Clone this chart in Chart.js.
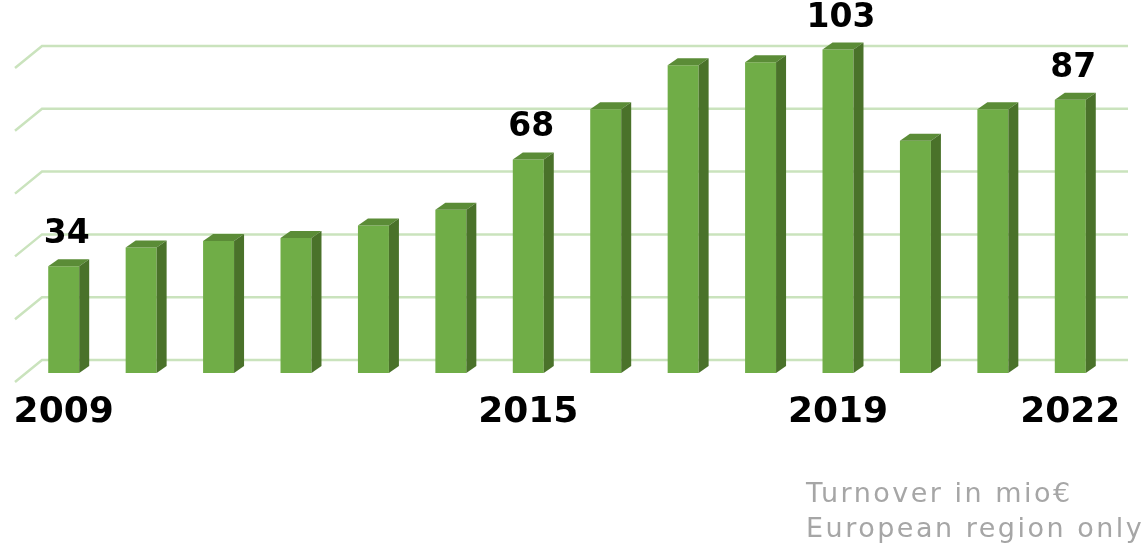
<!DOCTYPE html>
<html lang="en">
<head>
<meta charset="UTF-8">
<title>Turnover in mio€</title>
<script src="https://cdn.jsdelivr.net/npm/chart.js"></script>
<style>
    body {
        margin: 0;
        background: #ffffff;
        width: 1148px;
        height: 559px;
        overflow: hidden;
        position: relative;
        font-family: 'DejaVu Sans', sans-serif;
    }

    #chartBox {
        position: absolute;
        left: 0;
        top: 0;
        width: 1148px;
        height: 559px;
    }

    #note {
        position: absolute;
        left: 806px;
        top: 475px;
        color: #a6a6a6;
        font-size: 27px;
        letter-spacing: 2.5px;
        line-height: 35px;
        white-space: nowrap;
    }
</style>
</head>
<body>
<div id="chartBox"><canvas id="turnoverChart" width="1148" height="559"></canvas></div>
<div id="note">Turnover in mio€<br>European region only</div>

<script>
    const years = ['2009', '2010', '2011', '2012', '2013', '2014', '2015',
                   '2016', '2017', '2018', '2019', '2020', '2021', '2022'];
    const turnover = [34, 40, 42, 43, 47, 52, 68, 84, 98, 99, 103, 74, 84, 87];
    const shownYears = ['2009', '2015', '2019', '2022'];
    const gridValues = [0, 20, 40, 60, 80, 100];

    const frontColor = '#70ad47';
    const topColor = '#5b8c37';
    const sideColor = '#4a722a';
    const gridColor = '#cae3bd';

    // depth of the bar boxes and of the back wall
    const barDx = 10, barDy = 7;
    const wallDx = 17, wallDy = 13;

    const box3d = {
        id: 'box3d',
        beforeDatasetsDraw(chart) {
            const { ctx, chartArea, scales: { y } } = chart;
            ctx.save();
            ctx.strokeStyle = gridColor;
            ctx.lineWidth = 2.5;
            gridValues.forEach(v => {
                const yy = y.getPixelForValue(v) - wallDy;
                ctx.beginPath();
                ctx.moveTo(chartArea.left - 10, yy + 22);
                ctx.lineTo(chartArea.left + wallDx, yy);
                ctx.lineTo(chartArea.right + 19, yy);
                ctx.stroke();
            });
            ctx.restore();
        },
        afterDatasetsDraw(chart) {
            const ctx = chart.ctx;
            const meta = chart.getDatasetMeta(0);
            ctx.save();
            meta.data.forEach((bar, i) => {
                const l = bar.x - bar.width / 2;
                const r = bar.x + bar.width / 2;

                ctx.fillStyle = topColor;
                ctx.beginPath();
                ctx.moveTo(l, bar.y);
                ctx.lineTo(r, bar.y);
                ctx.lineTo(r + barDx, bar.y - barDy);
                ctx.lineTo(l + barDx, bar.y - barDy);
                ctx.closePath();
                ctx.fill();

                ctx.fillStyle = sideColor;
                ctx.beginPath();
                ctx.moveTo(r, bar.y);
                ctx.lineTo(r + barDx, bar.y - barDy);
                ctx.lineTo(r + barDx, bar.base - barDy);
                ctx.lineTo(r, bar.base);
                ctx.closePath();
                ctx.fill();

                // value labels only on the highlighted years
                if (shownYears.includes(years[i])) {
                    ctx.fillStyle = '#000000';
                    ctx.font = 'bold 33px "DejaVu Sans"';
                    ctx.textAlign = 'center';
                    ctx.textBaseline = 'alphabetic';
                    ctx.fillText(String(turnover[i]), bar.x + 3, bar.y - 23);
                }
            });
            ctx.restore();
        }
    };

    const ctx = document.getElementById('turnoverChart').getContext('2d');
    new Chart(ctx, {
        type: 'bar',
        data: {
            labels: years,
            datasets: [{
                data: turnover,
                backgroundColor: frontColor,
                borderWidth: 0,
                barPercentage: 0.4,
                categoryPercentage: 1.0,
                clip: false
            }]
        },
        options: {
            responsive: false,
            animation: false,
            layout: {
                padding: { top: 59, left: 25, right: 39, bottom: 0 }
            },
            plugins: {
                legend: { display: false },
                tooltip: { enabled: false }
            },
            scales: {
                y: {
                    display: false,
                    min: 0,
                    max: 100
                },
                x: {
                    grid: { display: false, drawTicks: false },
                    border: { display: false },
                    afterFit(scale) {
                        scale.height = 186;
                        // let the year labels overhang, don't shrink the plot for them
                        scale.paddingLeft = 0;
                        scale.paddingRight = 0;
                    },
                    ticks: {
                        autoSkip: false,
                        maxRotation: 0,
                        padding: 18,
                        color: '#000000',
                        font: { family: 'DejaVu Sans', size: 36, weight: 'bold' },
                        callback(value, index) {
                            const label = years[index];
                            return shownYears.includes(label) ? label : '';
                        }
                    }
                }
            }
        },
        plugins: [box3d]
    });
</script>
</body>
</html>
